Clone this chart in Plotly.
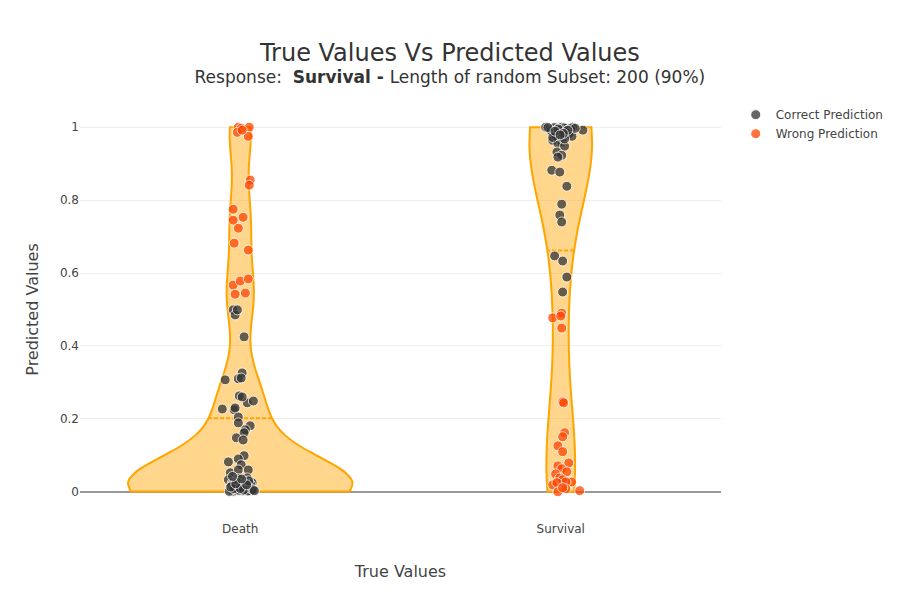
import plotly.graph_objects as go

# categories on the x axis (0 = Death, 1 = Survival)
categories = ["Death", "Survival"]

# Death - correct predictions (predicted value, horizontal jitter)
death_ok_y = [0.499, 0.485, 0.499, 0.425, 0.307, 0.326, 0.310, 0.312, 0.263, 0.244,
              0.249, 0.260, 0.227, 0.225, 0.230, 0.205, 0.189, 0.181, 0.170, 0.162,
              0.148, 0.142, 0.099, 0.090, 0.082, 0.074, 0.052, 0.060, 0.060, 0.038,
              0.033, 0.036, 0.019, 0.022, 0.025, 0.025, 0.005, 0.011, 0.005, 0.005,
              0.003, 0.003, 0.008, 0.014,
              0.001, 0.002, 0.003, 0.004, 0.005, 0.006, 0.007, 0.008, 0.009, 0.010,
              0.002, 0.004, 0.006, 0.008, 0.012, 0.014, 0.016, 0.018, 0.003, 0.005,
              0.007, 0.009, 0.011, 0.013, 0.015, 0.020, 0.024, 0.028, 0.001, 0.002,
              0.004, 0.006, 0.010, 0.012, 0.017, 0.021, 0.026, 0.030, 0.003, 0.008,
              0.005, 0.009, 0.013, 0.019, 0.022, 0.035, 0.042]
death_ok_dx = [-0.022, -0.016, -0.009, 0.012, -0.047, 0.006, -0.006, 0.003, -0.003, 0.022,
               0.041, 0.006, -0.056, -0.019, -0.016, -0.006, -0.006, 0.031, 0.016, 0.012,
               -0.012, 0.009, 0.012, -0.006, -0.037, 0.003, -0.031, -0.006, 0.025, 0.022,
               -0.037, -0.006, -0.009, 0.009, -0.025, 0.037, 0.041, -0.031, -0.019, 0.006,
               0.025, -0.006, 0.016, -0.012,
               -0.020, 0.010, 0.030, -0.010, 0.000, 0.020, -0.030, 0.015, -0.005, 0.025,
               0.005, -0.015, 0.035, -0.025, 0.012, -0.008, 0.022, -0.018, 0.008, -0.028,
               0.018, -0.002, 0.028, -0.012, 0.002, 0.032, -0.022, 0.014, -0.034, 0.024,
               -0.004, 0.038, -0.016, 0.006, -0.026, 0.016, -0.010, 0.026, 0.044, -0.020,
               0.010, 0.000, -0.030, 0.020, -0.014, 0.004, -0.024]

# Death - wrong predictions
death_bad_y = [1.000, 0.997, 1.000, 0.986, 0.975, 0.992, 0.855, 0.841, 0.775, 0.753,
               0.745, 0.723, 0.682, 0.663, 0.567, 0.578, 0.584, 0.542, 0.545]
death_bad_dx = [-0.006, 0.003, 0.028, -0.009, 0.025, 0.006, 0.031, 0.028, -0.022, 0.009,
                -0.022, -0.006, -0.019, 0.025, -0.022, 0.000, 0.025, -0.016, 0.016]

# Survival - correct predictions
surv_ok_y = [1.000, 0.995, 0.986, 1.000, 0.997, 1.000, 0.992, 0.978, 0.959, 0.964,
             0.956, 0.970, 0.984, 0.948, 0.932, 0.923, 0.918, 0.882, 0.877, 0.838,
             0.789, 0.759, 0.740, 0.647, 0.633, 0.589, 0.548,
             0.999, 0.998, 0.996, 0.994, 0.993, 0.991, 0.990, 0.988, 0.985, 0.982,
             0.980, 0.977, 0.975, 0.972, 0.968, 0.999, 0.997, 0.995, 0.992, 0.989,
             0.983, 0.979]
surv_ok_dx = [-0.047, -0.034, -0.025, 0.003, 0.019, 0.037, 0.069, -0.012, 0.003, -0.025,
              -0.009, 0.006, 0.028, 0.012, -0.012, 0.003, -0.009, -0.028, -0.003, 0.019,
              0.003, -0.003, 0.003, -0.019, 0.006, 0.019, 0.006,
              -0.020, 0.010, 0.030, -0.010, 0.000, 0.020, -0.030, 0.015, -0.005, 0.025,
              0.005, -0.015, 0.035, -0.025, 0.012, -0.040, 0.045, -0.008, 0.022, -0.018,
              0.008, -0.002]

# Survival - wrong predictions
surv_bad_y = [0.477, 0.490, 0.482, 0.449, 0.247, 0.244, 0.162, 0.151, 0.126, 0.110,
              0.079, 0.071, 0.063, 0.055, 0.049, 0.038, 0.033, 0.027, 0.019, 0.027,
              0.025, 0.000, 0.008, 0.003, 0.011]
surv_bad_dx = [-0.025, 0.003, 0.000, 0.003, 0.006, 0.009, 0.012, 0.006, -0.009, 0.006,
               0.025, -0.009, 0.003, 0.019, -0.016, -0.003, 0.006, 0.034, -0.025, 0.016,
               -0.012, -0.009, 0.016, 0.059, 0.006]

# violin uses all values, positioned at the category index
vio_x = ([0] * (len(death_ok_y) + len(death_bad_y))
         + [1] * (len(surv_ok_y) + len(surv_bad_y)))
vio_y = death_ok_y + death_bad_y + surv_ok_y + surv_bad_y

fig = go.Figure()

fig.add_trace(go.Violin(
    x=vio_x,
    y=vio_y,
    spanmode="hard",
    scalemode="count",
    line=dict(color="orange", width=2),
    fillcolor="rgba(255,165,0,0.45)",
    meanline=dict(visible=True),
    points=False,
    showlegend=False,
    hoverinfo="skip",
))

ok_x = [0 + d for d in death_ok_dx] + [1 + d for d in surv_ok_dx]
bad_x = [0 + d for d in death_bad_dx] + [1 + d for d in surv_bad_dx]

fig.add_trace(go.Scatter(
    x=ok_x,
    y=death_ok_y + surv_ok_y,
    mode="markers",
    name="Correct Prediction",
    marker=dict(color="#333333", size=10, opacity=0.75,
                line=dict(color="white", width=1)),
))
fig.add_trace(go.Scatter(
    x=bad_x,
    y=death_bad_y + surv_bad_y,
    mode="markers",
    name="Wrong Prediction",
    marker=dict(color="#ff4500", size=10, opacity=0.75,
                line=dict(color="white", width=1)),
))

fig.update_layout(
    width=900,
    height=600,
    template="none",
    paper_bgcolor="white",
    plot_bgcolor="white",
    violinmode="overlay",
    violingap=0.3,
    violingroupgap=0,
    font=dict(family="DejaVu Sans", color="#444"),
    title=dict(
        text="<span style='font-size:24px'>True Values Vs Predicted Values</span><br><span style='font-size:17px'>Response:  <b>Survival - </b>Length of random Subset: 200 (90%)</span>",
        x=0.491,
        xanchor="center",
        y=0.912,
        yanchor="top",
        font=dict(size=17, color="#333"),
    ),
    margin=dict(l=72, r=187, t=101, b=98),
    legend=dict(font=dict(size=12), x=1.023, y=1.022, yanchor="top"),
    xaxis=dict(
        title=dict(text="True Values", font=dict(size=16), standoff=30),
        tickvals=[0, 1],
        ticktext=categories,
        range=[-0.5, 1.5],
        showgrid=False,
        zeroline=False,
        ticks="",
        ticklabelstandoff=10,
    ),
    yaxis=dict(
        title=dict(text="Predicted Values", font=dict(size=16)),
        range=[-0.05, 1.05],
        tickvals=[0, 0.2, 0.4, 0.6, 0.8, 1],
        ticktext=["0", "0.2", "0.4", "0.6", "0.8", "1"],
        gridcolor="#eeeeee",
        zeroline=True,
        zerolinecolor="#999999",
        zerolinewidth=2,
        ticks="",
    ),
)

fig.write_html("out.html")
